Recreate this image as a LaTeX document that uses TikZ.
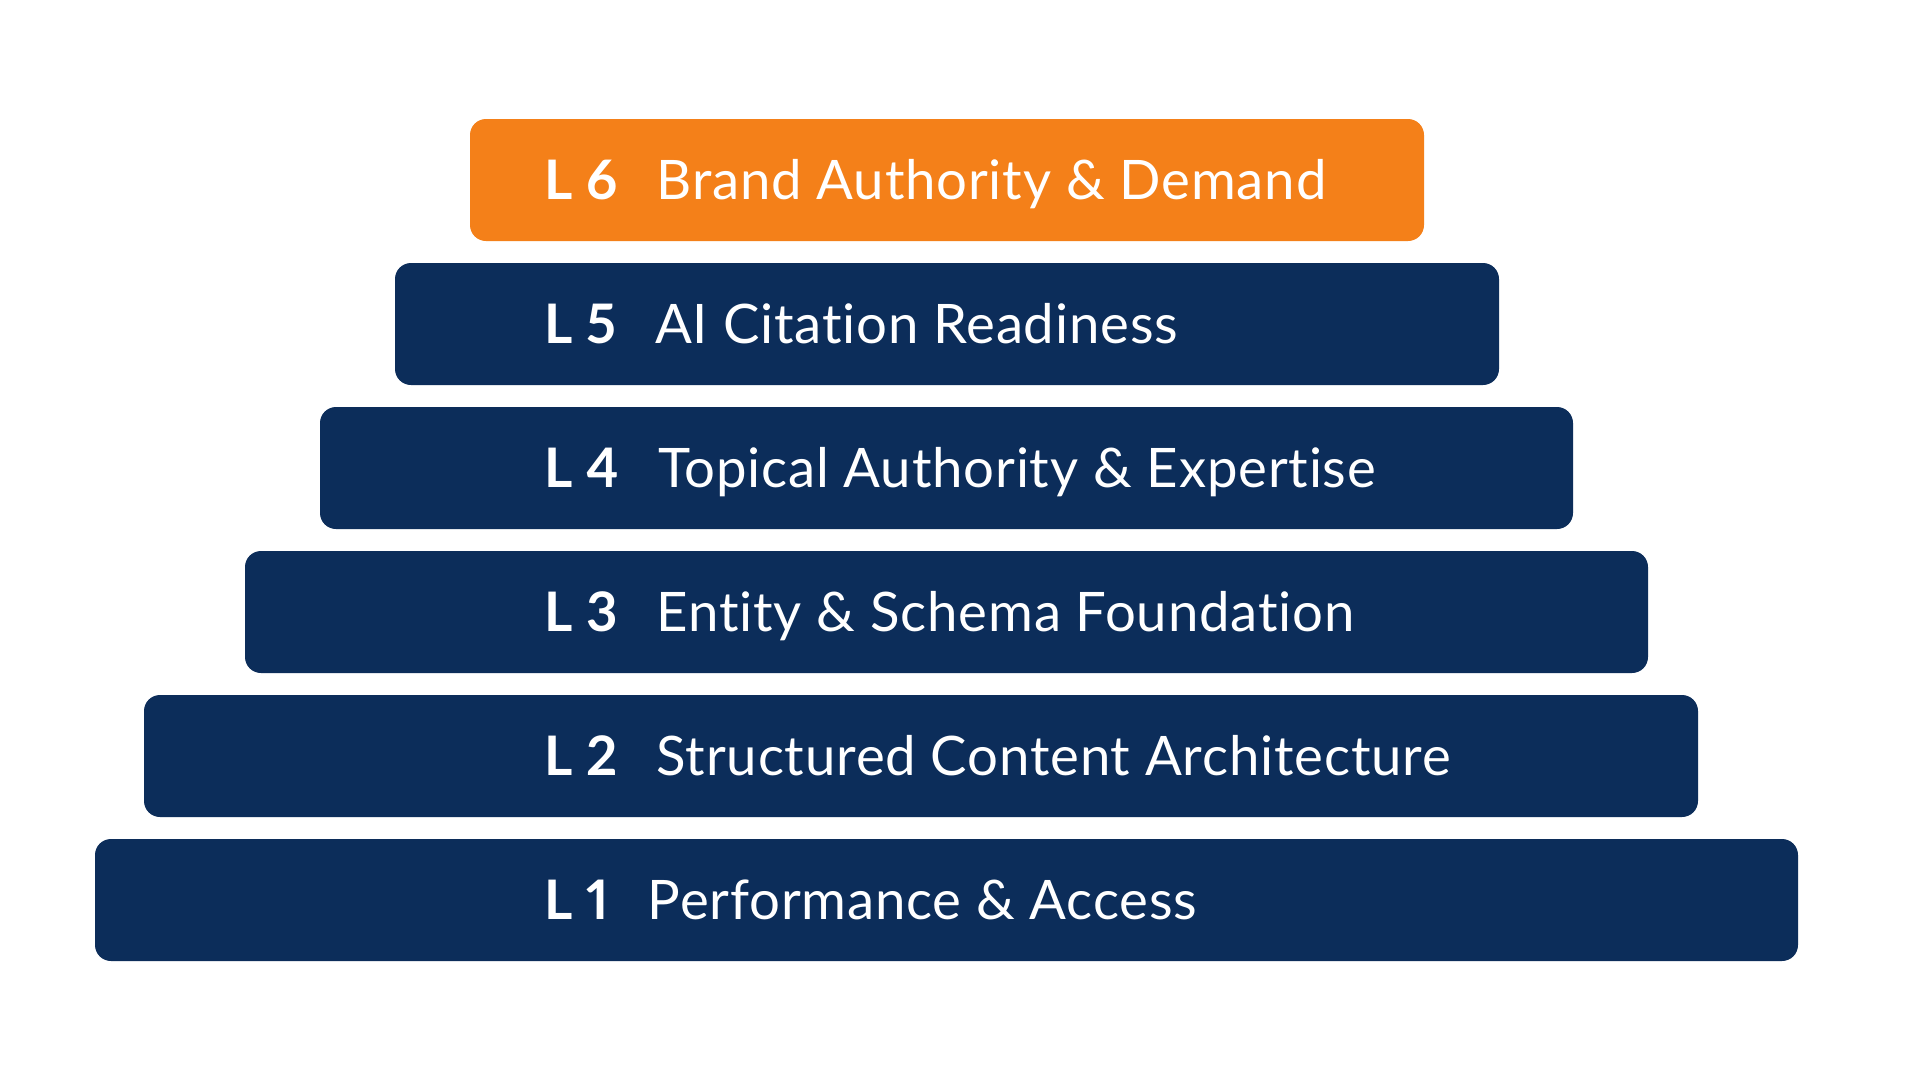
\documentclass[tikz,border=0pt]{standalone}
\usepackage{fontspec}
\setmainfont{Lato}[Ligatures=NoCommon, LetterSpace=1.5, Numbers=Proportional]
\definecolor{navy}{HTML}{0C2D5A}
\definecolor{brandorange}{HTML}{F48019}
\begin{document}
\begin{tikzpicture}[x=1pt,y=-1pt,
  tier/.style={fill=navy, draw=none, rounded corners=16pt, inner sep=0pt, minimum height=122pt},
  tiertext/.style={anchor=base west, inner sep=0pt, text=white, font=\fontsize{54.5}{60}\selectfont}]
\useasboundingbox (0,0) rectangle (1920,1080);
\fill[white] (0,0) rectangle (1920,1080);
\node[tier, fill=brandorange, minimum width=954pt] (t6) at (947,180) {};
\node[tier, minimum width=1104pt] (t5) at (947,324) {};
\node[tier, minimum width=1253pt] (t4) at (946.5,468) {};
\node[tier, minimum width=1403pt] (t3) at (946.5,612) {};
\node[tier, minimum width=1554pt] (t2) at (921,756) {};
\node[tier, minimum width=1703pt] (t1) at (946.5,900) {};
\newcommand{\tiergap}{\hspace{38pt}}
\node[tiertext] (x6) at (544,199.5) {\textbf{L 6}\tiergap Brand Authority \& Demand};
\node[tiertext] (x5) at (544,343.5) {\textbf{L 5}\tiergap AI Citation Readiness};
\node[tiertext] (x4) at (544,487.5) {\textbf{L 4}\tiergap Topical Authority \& Expertise};
\node[tiertext] (x3) at (544,631.5) {\textbf{L 3}\tiergap Entity \& Schema Foundation};
\node[tiertext] (x2) at (544,775.5) {\textbf{L 2}\tiergap Structured Content Architecture};
\node[tiertext] (x1) at (544,919.5) {\textbf{L 1}\tiergap Performance \& Access};
\end{tikzpicture}
\end{document}
